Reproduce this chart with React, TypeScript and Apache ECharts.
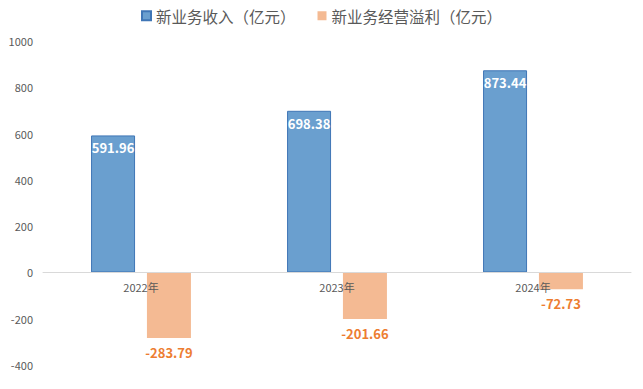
import React, { useEffect, useRef } from "react";
import * as echarts from "echarts";

const categories = ["2022年", "2023年", "2024年"];
const revenue = [591.96, 698.38, 873.44];
const profit = [-283.79, -201.66, -72.73];
const seriesNames = ["新业务收入（亿元）", "新业务经营溢利（亿元）"];

export default function App() {
  const ref = useRef<HTMLDivElement>(null);
  useEffect(() => {
    const chart = echarts.init(ref.current!, null, { renderer: "svg" });
    const font = "'Noto Sans CJK SC', 'Noto Sans', sans-serif";
    chart.setOption({
      animation: false,
      textStyle: { fontFamily: font },
      legend: {
        top: 3,
        left: "center",
        itemWidth: 9,
        itemHeight: 9,
        itemGap: 22,
        textStyle: { fontSize: 15.5, color: "#595959", fontFamily: font },
        data: [
          { name: seriesNames[0], icon: "rect" },
          { name: seriesNames[1], icon: "rect" },
        ],
      },
      grid: { left: 43, right: 12, top: 41, bottom: 24 },
      xAxis: {
        type: "category",
        data: categories,
        z: 5,
        axisLine: { onZero: true, lineStyle: { color: "#d9d9d9" } },
        axisTick: { show: false },
        axisLabel: { color: "#595959", fontSize: 11, margin: -84 },
      },
      yAxis: {
        type: "value",
        min: -400,
        max: 1000,
        interval: 200,
        splitLine: { show: false },
        axisLine: { show: false },
        axisTick: { show: false },
        axisLabel: {
          color: "#595959",
          fontSize: 11,
          margin: 10,
          formatter: (v: number) => String(v),
        },
      },
      series: [
        {
          name: seriesNames[0],
          type: "bar",
          data: revenue,
          barWidth: 44,
          barGap: "27%",
          itemStyle: { color: "#6A9FCF", borderColor: "#3F76B6", borderWidth: 1 },
          label: {
            show: true,
            position: "insideTop",
            distance: 6,
            color: "#ffffff",
            fontWeight: "bold",
            fontSize: 13,
            formatter: (p: any) => p.value.toFixed(2),
          },
        },
        {
          name: seriesNames[1],
          type: "bar",
          data: profit,
          barWidth: 44,
          itemStyle: { color: "#F4BA93" },
          label: {
            show: true,
            position: "bottom",
            distance: 8,
            color: "#ED7D31",
            fontWeight: "bold",
            fontSize: 13,
            formatter: (p: any) => p.value.toFixed(2),
          },
        },
      ],
    });
    return () => chart.dispose();
  }, []);
  return <div ref={ref} style={{ width: 643, height: 389, position: "absolute", left: 0, top: 0 }} />;
}
